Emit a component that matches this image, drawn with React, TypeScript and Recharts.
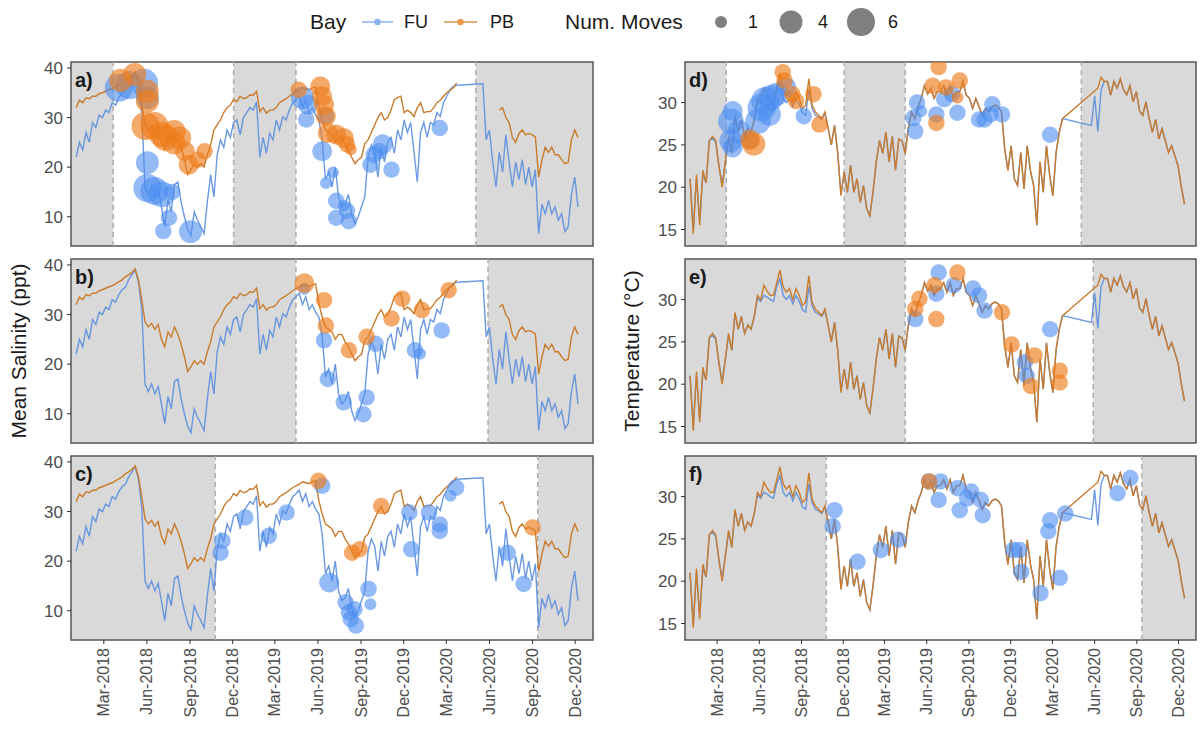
import React from 'react';
import {
  ComposedChart, Line, Scatter, XAxis, YAxis, ZAxis, ReferenceArea, ReferenceLine,
} from 'recharts';

// weekly values, first one on 2018-01-01
const seriesStart = '2018-01-01';

const fuSalinity = [
  22, 25, 23.5, 27, 25, 29, 28, 30.5, 30, 31.5,
  31, 33, 32.5, 34, 35, 35.5, 37, 38, 39, 36.5,
  31, 16, 14.5, 16, 14, 15.5, 12, 8, 13.5, 11,
  16.5, 17, 13, 10, 7.5, 6.2, 11, 9.3, 8, 6.6,
  13, 18.5, 14, 22.5, 25.5, 24, 27.5, 26, 29, 29.5,
  26.5, 30, 31, 32, 31.5, 33.2, 22, 26, 22.8, 26.8,
  25.5, 29.5, 27.5, 30.2, 29.5, 31.5, 33, 33.6, 34.3, 32,
  33.6, 31, 32, 30.5, 29.5, 25.5, 17.5, 19, 16, 20,
  14, 12, 12.6, 14.5, 10.6, 8.6, 10, 12, 14, 22,
  24.5, 23, 18, 24, 21, 25, 26, 22.8, 27.5, 25.5,
  29.5, 27, 29, 23, 17, 27, 29, 26, 29, 28.5,
  31, 30.2, 33, 34.3, 35.6, 36.3, 36.5, null, null, null,
  null, null, null, null, 36.8, 25.5, 27.5, 21, 16, 23,
  19, 26.5, 21, 16, 21, 17.5, 21.5, 16.5, 20, 16,
  19.5, 6.6, 12.5, 10.6, 13.3, 10.6, 12, 9.3, 10.6, 7,
  8, 14.5, 18, 12,
];

const pbSalinity = [
  32, 33.5, 33, 34, 33.8, 34.3, 34.3, 34.8, 35, 35.3,
  35.6, 35.8, 36.2, 36.6, 37, 37.6, 38, 38.5, 39.2, 37,
  33, 28.5, 27.5, 28.2, 27, 28, 25, 23.5, 26.5, 25.5,
  27.5, 26, 24, 21.5, 18.5, 19.5, 20.7, 20, 20.7, 20,
  22.5, 24.5, 27.5, 28.5, 29.5, 31, 32, 32.5, 33.6, 33.2,
  34.3, 33.8, 34, 34.6, 34.5, 35.3, 31.2, 32, 30.9, 31.5,
  31.5, 32, 33, 33.4, 33.8, 34.3, 34.8, 35.2, 35.5, 36,
  35.8, 35.6, 36, 36.2, 32.2, 29.5, 27.5, 27, 26.5, 25,
  26, 26, 24.5, 23.5, 22, 20.7, 21.5, 22, 24.8, 25.5,
  27, 28.5, 30, 31, 29.5, 30, 31.5, 33.6, 34, 34.3,
  31, 31.5, 31, 30.2, 32, 33, 31, 31.2, 31.2, 32,
  33, 33.5, 34.3, 35, 35.5, 36, 37, null, null, null,
  null, null, null, null, null, null, null, null, null, 31.5,
  32, 30, 29, 26, 25, 26.8, 27.5, 26.5, 26.8, 26.5,
  26.1, 18, 21.4, 24, 23, 24, 22.5, 22.5, 21.5, 20.7,
  21, 25.5, 27.5, 26,
];

const fuTemp = [
  21, 15, 21, 16, 21.5, 20.5, 25.5, 25.8, 25.3, 22.5,
  20.3, 23, 25.8, 24, 28.3, 26.5, 28, 26, 27, 26.5,
  28, 30.2, 29.8, 30.5, 30.3, 30, 29.8, 31.5, 32.5, 30.5,
  30, 30.5, 29.5, 30.5, 29.8, 28.8, 28.5, 31.5, 29.3, 28.5,
  28.3, 28, 28.7, 27, 25, 27.3, 24, 19.2, 21.8, 19.4,
  22.6, 19.4, 21, 18.2, 20.2, 17.5, 16.6, 19.5, 23, 25.5,
  24, 26.5, 23, 26, 22, 25.7, 25.5, 24, 27, 28.9,
  28.1, 29.5, 30.5, 32, 31, 31.7, 30.5, 31.3, 31.3, 32,
  30.9, 32, 30.5, 31.3, 31.3, 32.5, 30.9, 30.5, 29.3, 30.5,
  29.5, 28.5, 29.3, 28.9, 29.5, 29.7, 29.5, 28.9, 24.5, 22,
  24.9, 21, 20.2, 24.1, 19.8, 24.9, 22, 20.2, 15.5, 23,
  19.4, 24.9, 21.4, 19, 24.1, 26.5, 28.1, null, null, null,
  null, null, null, null, null, 27.3, 30.8, 26.6, 31.5, 32.5,
  32.5, 30.9, 32.5, 31.7, 32.8, 31.5, 30.9, 32, 30.1, 31.3,
  29, 28.5, 30.1, 28.1, 26.5, 28, 25.7, 26.9, 25.5, 24.1,
  24.9, 23.7, 22.5, 20, 18,
];

const pbTemp = [
  21, 14.5, 21.5, 15.5, 22, 20.5, 25.5, 26, 25.5, 22.5,
  20, 23, 26, 24, 28.5, 26.5, 28, 26, 27, 26.5,
  28, 30.5, 30, 31.7, 31, 30.5, 30.5, 32, 33.5, 31.5,
  30.9, 31.3, 30, 31.3, 30.5, 29.3, 29.7, 32.8, 29.7, 28.9,
  28.5, 28.1, 28.9, 27, 25, 27.3, 24, 19, 21.8, 19.4,
  22.6, 19.4, 21, 18.2, 20.2, 17.5, 16.6, 19.5, 23, 25.5,
  24, 26.5, 23, 26, 22, 25.7, 25.5, 24, 27, 28.9,
  28.1, 29.5, 30.5, 32, 31, 31.7, 30.5, 31.3, 31.3, 32,
  30.9, 32, 30.5, 31.3, 31.3, 32.5, 30.9, 30.5, 29.3, 30.5,
  29.5, 28.5, 29.3, 28.9, 29.5, 29.7, 29.5, 28.9, 24.5, 22,
  24.9, 21, 20.2, 24.1, 19.8, 24.9, 22, 20.2, 15.5, 23,
  19.4, 24.9, 21.4, 19, 24.1, 26.5, 28.1, null, null, null,
  null, null, null, null, null, null, null, 31.7, 33, 32.5,
  32.5, 30.9, 32.5, 31.7, 32.8, 31.5, 30.9, 32, 30.1, 31.3,
  29, 28.5, 30.1, 28.1, 26.5, 28, 25.7, 26.9, 25.5, 24.1,
  24.9, 23.7, 22.5, 20, 18,
];

// detections: [date, value, number of moves]
const aFU = [
  ['2018-04-02', 36, 6], ['2018-04-25', 36.5, 6], ['2018-05-26', 37, 6], ['2018-06-02', 34, 4],
  ['2018-06-02', 20.9, 4], ['2018-06-02', 15.8, 6], ['2018-06-17', 15.2, 6], ['2018-07-03', 14.5, 5],
  ['2018-07-25', 15, 2], ['2018-07-18', 9.8, 2], ['2018-07-06', 7.1, 2], ['2018-09-02', 7, 4],
  ['2019-04-29', 34, 4], ['2019-05-11', 32.6, 3], ['2019-05-07', 29.6, 2], ['2019-06-18', 30.3, 2],
  ['2019-06-10', 23.2, 3], ['2019-06-18', 16.8, 1], ['2019-07-03', 18.9, 1], ['2019-07-10', 13.2, 2],
  ['2019-07-26', 12.2, 1], ['2019-08-02', 11.2, 2], ['2019-07-10', 9.8, 2], ['2019-08-06', 9.1, 2],
  ['2019-09-21', 20.5, 2], ['2019-09-28', 22.5, 2], ['2019-10-17', 24.6, 3], ['2019-10-10', 23.2, 2],
  ['2019-11-05', 19.5, 2], ['2020-02-16', 27.9, 2],
];
const aPB = [
  ['2018-04-06', 37.5, 4], ['2018-05-06', 38.7, 4], ['2018-06-02', 35.3, 4], ['2018-06-02', 33.3, 4],
  ['2018-05-29', 28.3, 6], ['2018-06-17', 28.3, 6], ['2018-07-03', 26.6, 5], ['2018-07-10', 25.9, 5],
  ['2018-07-29', 27.2, 4], ['2018-08-10', 25.9, 4], ['2018-07-29', 24.9, 4], ['2018-08-21', 23.2, 3],
  ['2018-08-29', 20.5, 3], ['2018-09-17', 21.5, 2], ['2018-10-02', 23.2, 2],
  ['2019-04-21', 35.6, 2], ['2019-06-06', 36.3, 3], ['2019-06-10', 34.3, 3], ['2019-06-14', 32.6, 3],
  ['2019-06-18', 30.3, 3], ['2019-06-22', 26.9, 3], ['2019-07-10', 26.6, 3], ['2019-07-26', 25.9, 3],
  ['2019-08-02', 24.6, 2], ['2019-08-10', 23.6, 1],
];
const bFU = [
  ['2019-05-03', 35.2, 1], ['2019-06-14', 24.8, 2], ['2019-06-22', 17, 2], ['2019-07-26', 12.3, 2],
  ['2019-09-06', 9.9, 2], ['2019-09-13', 13.3, 2], ['2019-10-02', 24.1, 2], ['2019-12-25', 22.8, 2],
  ['2020-01-05', 22.1, 1], ['2020-02-20', 26.8, 2],
];
const bPB = [
  ['2019-05-03', 36.3, 3], ['2019-06-14', 32.9, 2], ['2019-06-18', 27.8, 2], ['2019-08-06', 22.8, 2],
  ['2019-09-13', 25.5, 2], ['2019-11-05', 29.2, 2], ['2019-11-28', 33.2, 2], ['2020-01-09', 30.9, 2],
  ['2020-03-06', 34.9, 2],
];
const cFU = [
  ['2018-11-09', 24.1, 2], ['2018-11-05', 21.7, 2], ['2018-12-28', 28.8, 2], ['2019-02-16', 25.1, 2],
  ['2019-03-26', 29.8, 2], ['2019-06-10', 35.2, 2], ['2019-06-25', 15.7, 3], ['2019-07-30', 11.7, 2],
  ['2019-08-06', 9.7, 2], ['2019-08-10', 8.3, 2], ['2019-08-21', 7, 2], ['2019-08-18', 10.3, 2],
  ['2019-09-17', 14.4, 2], ['2019-09-21', 11.3, 1], ['2019-12-13', 29.8, 2], ['2019-12-17', 22.4, 2],
  ['2020-01-24', 29.8, 2], ['2020-02-16', 27.4, 2], ['2020-02-16', 26.1, 2], ['2020-03-10', 33.2, 1],
  ['2020-03-22', 34.8, 2], ['2020-07-10', 21.7, 2], ['2020-08-13', 15.4, 2],
];
const cPB = [
  ['2019-06-02', 36.2, 2], ['2019-08-13', 21.7, 2], ['2019-08-29', 22.4, 2], ['2019-10-14', 31.1, 2],
  ['2020-09-01', 26.8, 2],
];
const dFU = [
  ['2018-03-31', 27.8, 5], ['2018-04-04', 29, 3], ['2018-03-31', 25.5, 4], ['2018-04-04', 24.7, 3],
  ['2018-04-17', 26.6, 4], ['2018-05-12', 25.5, 2], ['2018-05-29', 27.8, 5], ['2018-06-06', 29.4, 6],
  ['2018-06-14', 30.2, 6], ['2018-06-27', 30.6, 5], ['2018-06-23', 28.6, 4], ['2018-07-09', 31, 4],
  ['2018-07-30', 31.8, 3], ['2018-09-06', 28.4, 2],
  ['2019-05-03', 28.2, 2], ['2019-05-07', 26.6, 2], ['2019-05-11', 30, 2], ['2019-05-20', 29, 1],
  ['2019-06-22', 28.6, 2], ['2019-07-09', 30.4, 2], ['2019-07-26', 31, 2], ['2019-08-07', 28.8, 2],
  ['2019-09-23', 28, 2], ['2019-10-05', 28, 2], ['2019-10-18', 28.6, 2], ['2019-10-22', 29.8, 2],
  ['2019-11-12', 28.6, 2], ['2020-02-25', 26.2, 2],
];
const dPB = [
  ['2018-05-20', 25.1, 4], ['2018-05-12', 25.6, 3], ['2018-07-22', 33.6, 2], ['2018-07-26', 32.6, 2],
  ['2018-08-12', 31, 2], ['2018-08-20', 30.2, 2], ['2018-09-27', 31, 2], ['2018-10-10', 27.4, 2],
  ['2019-06-27', 34.2, 2], ['2019-06-14', 32, 2], ['2019-06-22', 27.6, 2], ['2019-08-12', 32.6, 2],
  ['2019-08-07', 30.6, 1], ['2019-07-13', 31.8, 2],
];
const eFU = [
  ['2019-05-07', 27.7, 2], ['2019-06-27', 33.2, 2], ['2019-06-22', 30.7, 2], ['2019-07-30', 31.7, 2],
  ['2019-09-10', 31.3, 2], ['2019-09-23', 30.5, 2], ['2019-10-05', 28.7, 2], ['2020-01-01', 22.6, 2],
  ['2020-01-05', 21, 2], ['2020-02-25', 26.5, 2],
];
const ePB = [
  ['2019-05-16', 30.1, 2], ['2019-05-07', 28.9, 2], ['2019-06-18', 31.7, 2], ['2019-06-22', 27.7, 2],
  ['2019-08-07', 33.2, 2], ['2019-11-12', 28.5, 2], ['2019-12-03', 24.7, 2], ['2020-01-22', 23.4, 2],
  ['2020-01-14', 19.8, 2], ['2020-03-17', 21.6, 2], ['2020-03-17', 20.2, 2],
];
const fFU = [
  ['2018-11-12', 28.4, 2], ['2018-11-08', 26.5, 2], ['2019-01-01', 22.3, 2], ['2019-02-21', 23.7, 2],
  ['2019-03-31', 24.9, 2], ['2019-06-06', 31.8, 2], ['2019-07-01', 31.8, 2], ['2019-06-27', 29.6, 2],
  ['2019-08-07', 31, 2], ['2019-08-12', 28.4, 2], ['2019-08-28', 29.8, 2], ['2019-09-06', 30.6, 2],
  ['2019-09-27', 29.6, 2], ['2019-10-01', 27.8, 2], ['2019-12-07', 23.7, 2], ['2019-12-20', 23.7, 2],
  ['2019-12-24', 21.1, 2], ['2020-02-04', 18.6, 2], ['2020-02-21', 25.9, 2], ['2020-02-25', 27.2, 2],
  ['2020-03-17', 20.4, 2], ['2020-03-29', 28, 2], ['2020-07-21', 30.4, 2], ['2020-08-18', 32.2, 2],
];
const fPB = [['2019-06-06', 31.8, 2]];

// grey periods per row (null = edge of the axis)
const shadeRow1 = [[null, '2018-03-21'], ['2018-12-03', '2019-04-15'], ['2020-05-03', null]];
const shadeRow2 = [[null, '2019-04-15'], ['2020-05-29', null]];
const shadeRow3 = [[null, '2018-10-25'], ['2020-09-12', null]];

const dateTicks = [
  '2018-03-01', '2018-06-01', '2018-09-01', '2018-12-01', '2019-03-01', '2019-06-01',
  '2019-09-01', '2019-12-01', '2020-03-01', '2020-06-01', '2020-09-01', '2020-12-01',
];
const salinityTicks = [10, 20, 30, 40];
const tempTicks = [15, 20, 25, 30];

const DAY = 86400000;
const X_MIN = Date.parse('2017-12-21');
const X_MAX = Date.parse('2021-01-08');
const SAL_DOMAIN = [4.1, 41.2];
const TEMP_DOMAIN = [13.05, 34.8];
const PLOT_H = 184;
const FONT = "'Liberation Sans', Arial, Helvetica, sans-serif";
const MONTHS = ['Jan', 'Feb', 'Mar', 'Apr', 'May', 'Jun', 'Jul', 'Aug', 'Sep', 'Oct', 'Nov', 'Dec'];

const weekly = (vals: (number | null)[]) =>
  vals.map((v, i) => ({ t: Date.parse(seriesStart) + i * 7 * DAY, v }));
const toPts = (rows: any[]) => rows.map(([d, v, n]) => ({ t: Date.parse(d), v, n }));
const fmtDate = (t: number) => {
  const d = new Date(t);
  return `${MONTHS[d.getUTCMonth()]}-${d.getUTCFullYear()}`;
};
const sizeArea = (n: number) => 113 + ((n - 1) / 5) * 503;

const DateTick = (p: any) => (
  <text x={p.x} y={p.y} transform={`rotate(-90 ${p.x} ${p.y})`} textAnchor="end"
    dominantBaseline="central" fontSize={16} fill="#4d4d4d" fontFamily={FONT}>
    {fmtDate(p.payload.value)}
  </text>
);

function Panel(props: any) {
  const { plotLeft, top, plotW, showX, domain, ticks, fu, pb, fuPts, pbPts, shade, pbConnect } = props;
  const yW = 60;
  const m = 2;
  return (
    <div style={{ position: 'absolute', left: plotLeft - yW, top: top - m }}>
      <ComposedChart width={yW + plotW + m} height={m + PLOT_H + (showX ? 80 : m)}
        margin={{ top: m, right: m, bottom: showX ? 0 : m, left: 0 }}>
        <XAxis type="number" dataKey="t" domain={[X_MIN, X_MAX]} allowDataOverflow
          ticks={dateTicks.map((d) => Date.parse(d))} interval={0} hide={!showX} height={80}
          tickSize={4} tickMargin={4} axisLine={false} tickLine={{ stroke: '#333' }} tick={DateTick} />
        <YAxis type="number" dataKey="v" domain={domain} allowDataOverflow ticks={ticks} interval={0}
          width={yW} tickSize={4} tickMargin={4} axisLine={false} tickLine={{ stroke: '#333' }}
          tick={{ fill: '#4d4d4d', fontSize: 17, fontFamily: FONT }} />
        <ZAxis type="number" dataKey="n" domain={[1, 6]} range={[sizeArea(1), sizeArea(6)]} />
        {shade.map(([a, b]: any, i: number) => (
          <ReferenceArea key={'s' + i} x1={a ? Date.parse(a) : X_MIN} x2={b ? Date.parse(b) : X_MAX}
            y1={domain[0]} y2={domain[1]} fill="#d9d9d9" fillOpacity={1} stroke="none" />
        ))}
        {shade.flat().filter((d: any) => d).map((d: string) => (
          <ReferenceLine key={'l' + d} x={Date.parse(d)} stroke="#adadad" strokeWidth={1.5} strokeDasharray="5 4" />
        ))}
        <Line data={fu} dataKey="v" stroke="#5b8fdf" strokeWidth={1.4} strokeOpacity={0.9} dot={false}
          activeDot={false} connectNulls isAnimationActive={false} />
        <Line data={pb} dataKey="v" stroke="#c97b2c" strokeWidth={1.4} dot={false}
          activeDot={false} connectNulls={pbConnect} isAnimationActive={false} />
        <Scatter data={fuPts} dataKey="v" fill="#4d8ef0" fillOpacity={0.6} isAnimationActive={false} />
        <Scatter data={pbPts} dataKey="v" fill="#ee7c1c" fillOpacity={0.65} isAnimationActive={false} />
        <ReferenceArea x1={X_MIN} x2={X_MAX} y1={domain[0]} y2={domain[1]} fill="none"
          stroke="#555" strokeWidth={1.5} />
      </ComposedChart>
    </div>
  );
}

export default function App() {
  const rowsTop = [62, 259, 456];
  const leftX = 71;
  const leftW = 522;
  const rightX = 685;
  const rightW = 511;
  const fuSal = weekly(fuSalinity);
  const pbSal = weekly(pbSalinity);
  const fuT = weekly(fuTemp);
  const pbT = weekly(pbTemp);
  const panels = [
    { key: 'a', plotLeft: leftX, plotW: leftW, top: rowsTop[0], domain: SAL_DOMAIN, ticks: salinityTicks, fu: fuSal, pb: pbSal, fuPts: toPts(aFU), pbPts: toPts(aPB), shade: shadeRow1, pbConnect: false },
    { key: 'b', plotLeft: leftX, plotW: leftW, top: rowsTop[1], domain: SAL_DOMAIN, ticks: salinityTicks, fu: fuSal, pb: pbSal, fuPts: toPts(bFU), pbPts: toPts(bPB), shade: shadeRow2, pbConnect: false },
    { key: 'c', plotLeft: leftX, plotW: leftW, top: rowsTop[2], domain: SAL_DOMAIN, ticks: salinityTicks, fu: fuSal, pb: pbSal, fuPts: toPts(cFU), pbPts: toPts(cPB), shade: shadeRow3, pbConnect: false, showX: true },
    { key: 'd', plotLeft: rightX, plotW: rightW, top: rowsTop[0], domain: TEMP_DOMAIN, ticks: tempTicks, fu: fuT, pb: pbT, fuPts: toPts(dFU), pbPts: toPts(dPB), shade: shadeRow1, pbConnect: true },
    { key: 'e', plotLeft: rightX, plotW: rightW, top: rowsTop[1], domain: TEMP_DOMAIN, ticks: tempTicks, fu: fuT, pb: pbT, fuPts: toPts(eFU), pbPts: toPts(ePB), shade: shadeRow2, pbConnect: true },
    { key: 'f', plotLeft: rightX, plotW: rightW, top: rowsTop[2], domain: TEMP_DOMAIN, ticks: tempTicks, fu: fuT, pb: pbT, fuPts: toPts(fFU), pbPts: toPts(fPB), shade: shadeRow3, pbConnect: true, showX: true },
  ];
  const r = (n: number) => Math.sqrt(sizeArea(n) / Math.PI);
  return (
    <div style={{ position: 'absolute', left: 0, top: 0, width: 1203, height: 734, background: '#fff', fontFamily: FONT, overflow: 'hidden' }}>
      {panels.map((p) => <Panel {...p} />)}
      <svg width={1203} height={734} style={{ position: 'absolute', left: 0, top: 0, pointerEvents: 'none' }} fontFamily={FONT}>
        {panels.map((p) => (
          <text key={'t' + p.key} x={p.plotLeft + 4} y={p.top + 25} fontSize={20} fontWeight="bold" fill="#1a1a1a">{p.key + ')'}</text>
        ))}
        <text x={0} y={0} transform="translate(26 351) rotate(-90)" textAnchor="middle" fontSize={21} fill="#1a1a1a">Mean Salinity (ppt)</text>
        <text x={0} y={0} transform="translate(639 351) rotate(-90)" textAnchor="middle" fontSize={21} fill="#1a1a1a">Temperature (°C)</text>
        <text x={310} y={29} fontSize={21} fill="#1a1a1a">Bay</text>
        <line x1={362} x2={393} y1={22} y2={22} stroke="#8ab0ee" strokeWidth={1.5} />
        <circle cx={377.5} cy={22} r={3.2} fill="#8ab0ee" />
        <text x={404} y={28} fontSize={18} fill="#1a1a1a">FU</text>
        <line x1={444} x2={477} y1={22} y2={22} stroke="#d4954a" strokeWidth={1.5} />
        <circle cx={460.5} cy={22} r={3.2} fill="#f09a48" />
        <text x={490} y={28} fontSize={18} fill="#1a1a1a">PB</text>
        <text x={565} y={29} fontSize={21} fill="#1a1a1a">Num. Moves</text>
        <circle cx={721} cy={22} r={r(1)} fill="#7f7f7f" />
        <text x={748} y={28} fontSize={18} fill="#1a1a1a">1</text>
        <circle cx={791} cy={22} r={r(4)} fill="#7f7f7f" />
        <text x={818} y={28} fontSize={18} fill="#1a1a1a">4</text>
        <circle cx={861} cy={22} r={r(6)} fill="#7f7f7f" />
        <text x={888} y={28} fontSize={18} fill="#1a1a1a">6</text>
      </svg>
    </div>
  );
}
